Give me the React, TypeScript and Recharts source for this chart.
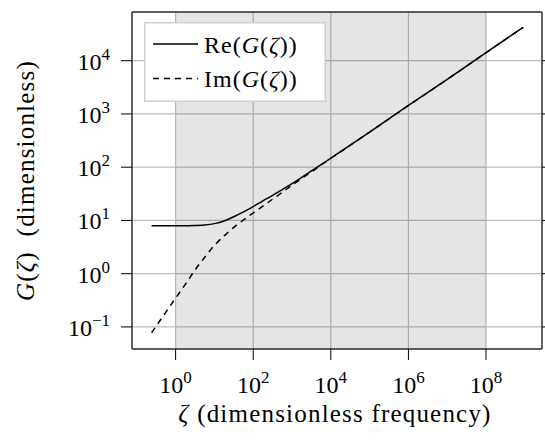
import React from 'react';
import { LineChart, Line, XAxis, YAxis, CartesianGrid, ReferenceArea, Legend } from 'recharts';

// values (log-log), zeta = dimensionless frequency
const zeta = [0.24, 0.562, 1, 1.778, 3.162, 5.623, 10, 17.78, 31.62, 56.23, 100, 177.8, 316.2, 562.3, 1000, 1778, 3162, 5623, 1e4, 1e5, 1e6, 1e7, 1e8, 9e8];
const reG = [7.94, 7.94, 7.94, 7.94, 8.04, 8.22, 8.71, 9.77, 11.75, 14.45, 18.2, 23.4, 29.5, 38, 49, 64.6, 85.1, 112, 148, 457, 1445, 4467, 14125, 42460];
const imG = [0.0776, 0.19, 0.347, 0.63, 1.17, 2.04, 3.39, 5.13, 7.41, 10.2, 13.8, 18.6, 25.1, 33.9, 45.7, 61.7, 81.3, 110, 146, 456, 1440, 4460, 14100, 42400];

const xTicks = [1, 1e2, 1e4, 1e6, 1e8];
const yTicks = [0.1, 1, 10, 100, 1000, 10000];
const shadeFrom = 1;
const shadeTo = 1e8;

const xDomain = [0.0752, 2.77e9];
const yDomain = [0.0385, 82200];

const FONT = "'Liberation Serif', 'DejaVu Serif', 'Times New Roman', serif";
const FRAME = '#333';
const txt = { fontFamily: FONT, fontSize: 24 };
const title = { fontFamily: FONT, fontSize: 25, letterSpacing: 1.2 };

const data = zeta.map((z, i) => ({ z, re: reG[i], im: imG[i] }));

const expOf = (v: number) => {
  const e = Math.round(Math.log10(v));
  return e < 0 ? '\u2212' + Math.abs(e) : String(e);
};

const XTick = (props: any) => {
  const { x, y, payload } = props;
  return (
    <text x={x} y={y + 33} textAnchor="middle" style={txt} fill="#000">
      10<tspan dy={-10} style={{ fontSize: 17 }}>{expOf(payload.value)}</tspan>
    </text>
  );
};

const YTick = (props: any) => {
  const { x, y, payload } = props;
  return (
    <text x={x} y={y + 9} textAnchor="end" style={txt} fill="#000">
      10<tspan dy={-10} style={{ fontSize: 17 }}>{expOf(payload.value)}</tspan>
    </text>
  );
};

const NoTick = () => <g />;

const XTitle = (props: any) => {
  const { x, width } = props.viewBox;
  return (
    <text x={x + width / 2 - 2} y={422} textAnchor="middle" style={title} fill="#000">
      <tspan fontStyle="italic">ζ</tspan> (dimensionless frequency)
    </text>
  );
};

const YTitle = (props: any) => {
  const { y, height } = props.viewBox;
  const cy = y + height / 2;
  return (
    <text x={34} y={cy} transform={`rotate(-90 34 ${cy})`} textAnchor="middle" style={title} fill="#000">
      <tspan fontStyle="italic">G</tspan>(<tspan fontStyle="italic">ζ</tspan>){'\u00a0\u00a0'}(dimensionless)
    </text>
  );
};

const renderLegend = () => (
  <svg width={182} height={80} style={{ display: 'block' }}>
    <rect x={0.75} y={0.75} width={180.5} height={78.5} fill="#fff" stroke="#cfcfcf" strokeWidth={1.5} />
    <line x1={9} x2={54} y1={22} y2={22} stroke="#000" strokeWidth={1.5} />
    <line x1={9} x2={54} y1={56.5} y2={56.5} stroke="#000" strokeWidth={1.5} strokeDasharray="6 5" />
    <text x={60} y={30.5} style={{ ...txt, letterSpacing: 1 }} fill="#000">
      Re(<tspan fontStyle="italic">G</tspan>(<tspan fontStyle="italic">ζ</tspan>))
    </text>
    <text x={60} y={65} style={{ ...txt, letterSpacing: 1 }} fill="#000">
      Im(<tspan fontStyle="italic">G</tspan>(<tspan fontStyle="italic">ζ</tspan>))
    </text>
  </svg>
);

export default function App() {
  return (
    <div style={{ position: 'absolute', left: 0, top: 0, background: '#fff' }}>
      <LineChart width={545} height={441} data={data} margin={{ top: 0, right: 0, bottom: 0, left: 0 }}>
        <CartesianGrid stroke="#bdbdbd" strokeWidth={1.2} />
        <ReferenceArea x1={shadeFrom} x2={shadeTo} fill="#000" fillOpacity={0.1} stroke="none" ifOverflow="hidden" />
        <XAxis
          dataKey="z"
          type="number"
          scale="log"
          domain={xDomain}
          allowDataOverflow
          ticks={xTicks}
          height={92}
          tickSize={11}
          tickMargin={0}
          tick={<XTick />}
          tickLine={{ stroke: '#000' }}
          axisLine={{ stroke: FRAME, strokeWidth: 1.4 }}
          label={{ content: XTitle }}
        />
        <XAxis
          xAxisId="top"
          orientation="top"
          type="number"
          scale="log"
          domain={xDomain}
          allowDataOverflow
          ticks={xTicks}
          height={12}
          tickSize={11}
          tick={<NoTick />}
          tickLine={{ stroke: '#000' }}
          axisLine={{ stroke: FRAME, strokeWidth: 1.4 }}
        />
        <YAxis
          type="number"
          scale="log"
          domain={yDomain}
          allowDataOverflow
          ticks={yTicks}
          width={132}
          tickSize={11}
          tickMargin={11}
          tick={<YTick />}
          tickLine={{ stroke: '#000' }}
          axisLine={{ stroke: FRAME, strokeWidth: 1.4 }}
          label={{ content: YTitle }}
        />
        <YAxis
          yAxisId="right"
          orientation="right"
          type="number"
          scale="log"
          domain={yDomain}
          allowDataOverflow
          ticks={yTicks}
          width={3}
          tickSize={11}
          tick={<NoTick />}
          tickLine={{ stroke: '#000' }}
          axisLine={{ stroke: FRAME, strokeWidth: 1.4 }}
        />
        <Legend
          layout="vertical"
          align="center"
          verticalAlign="middle"
          wrapperStyle={{ left: 144, top: 22, width: 182, height: 80 }}
          content={renderLegend}
        />
        <Line type="monotone" dataKey="re" stroke="#000" strokeWidth={1.5} dot={false} isAnimationActive={false} />
        <Line type="monotone" dataKey="im" stroke="#000" strokeWidth={1.5} strokeDasharray="6 5" dot={false} isAnimationActive={false} />
      </LineChart>
    </div>
  );
}
